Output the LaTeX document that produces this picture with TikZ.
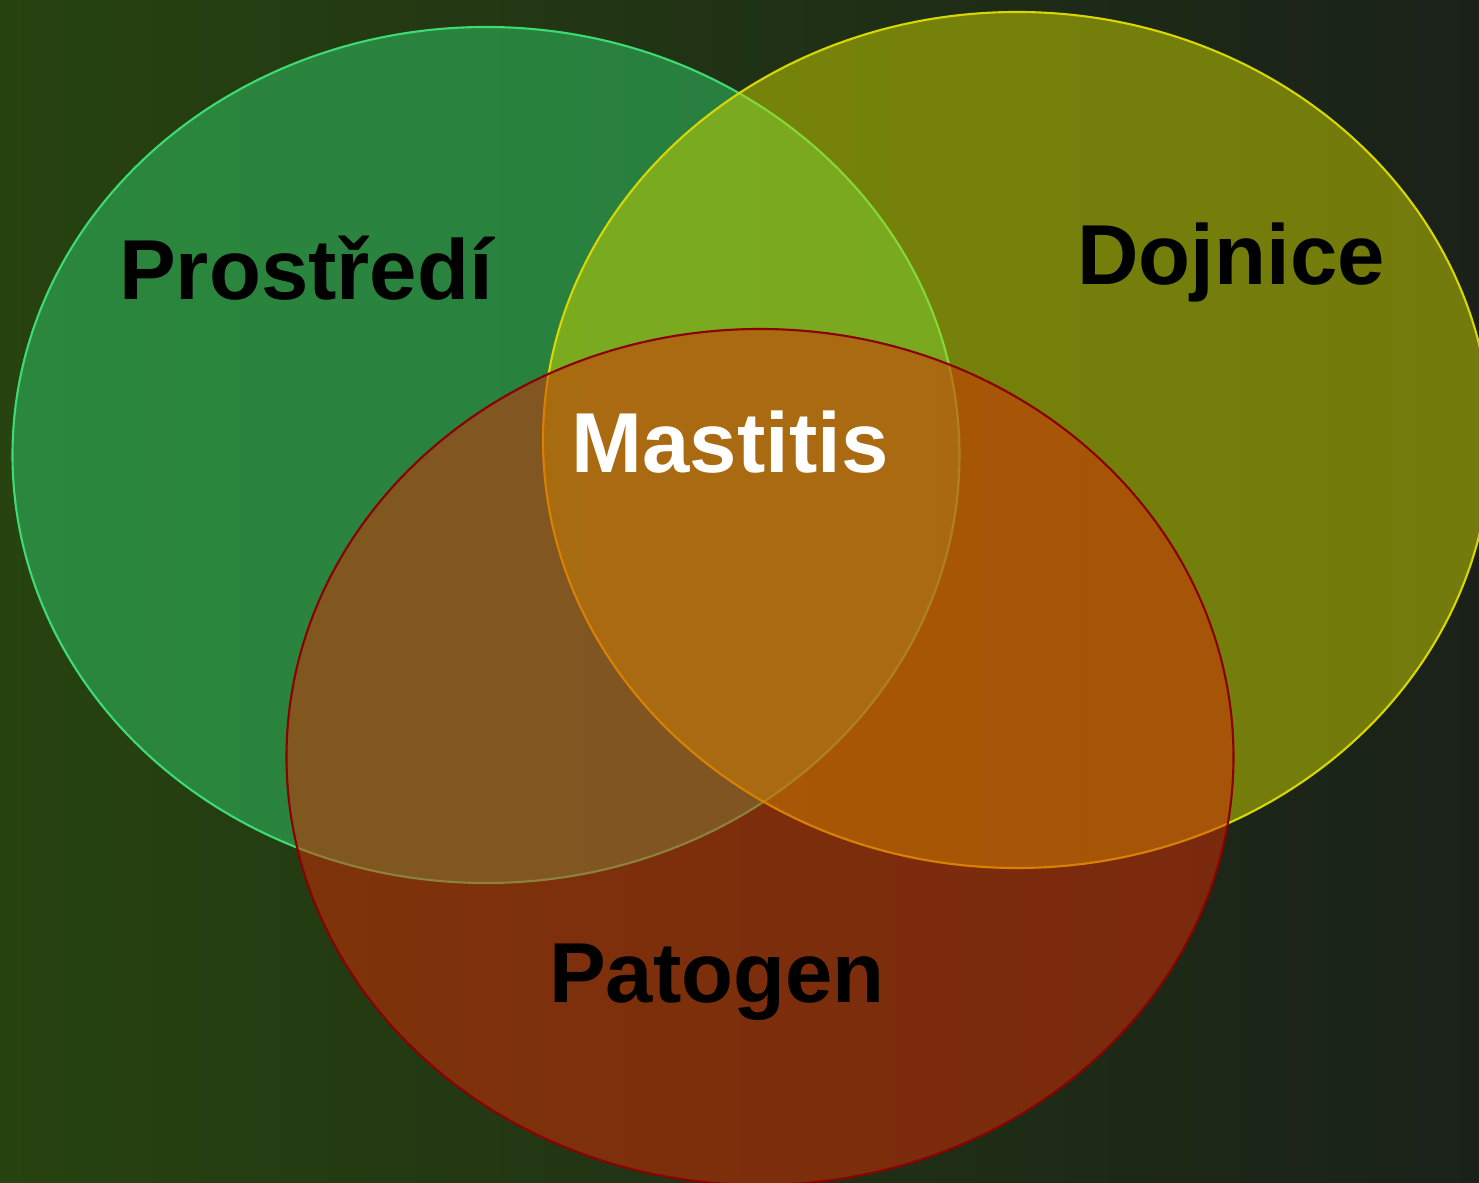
\documentclass[tikz,border=0pt]{standalone}
\usepackage{fontspec}
\setmainfont{Liberation Sans}
\definecolor{bgleft}{HTML}{274310}
\definecolor{bgright}{HTML}{1A2119}
\definecolor{greenfill}{HTML}{30CC6A}
\definecolor{greenline}{HTML}{3DDC72}
\definecolor{olivefill}{HTML}{CCD500}
\definecolor{oliveline}{HTML}{D8D800}
\definecolor{redfill}{HTML}{D92C04}
\definecolor{redline}{HTML}{8B0000}
\tikzset{
  circ/.style={line width=0.6pt,fill opacity=0.5},
  lbl/.style={anchor=base,inner sep=0pt,font=\fontsize{24.2}{29}\selectfont\bfseries}
}
\begin{document}
\begin{tikzpicture}[x=0.01cm,y=-0.01cm]
  \useasboundingbox (0,0) rectangle (1479,1183);
  \clip (0,0) rectangle (1479,1183);
  \shade[left color=bgleft,right color=bgright] (0,0) rectangle (1479,1183);
  % the three sets
  \draw[circ,draw=greenline,fill=greenfill] (486,455) ellipse [x radius=473.5,y radius=428];
  \draw[circ,draw=oliveline,fill=olivefill] (1017,440) ellipse [x radius=474,y radius=428];
  \draw[circ,draw=redline,fill=redfill] (760,757) ellipse [x radius=473.5,y radius=428];
  \draw
    (306,300) node[lbl] (prostredi){Prostředí}
    (1231,285) node[lbl] (dojnice){Dojnice}
    (730,473) node[lbl,text=white] (mastitis){Mastitis}
    (717,1002) node[lbl] (patogen){Patogen};
\end{tikzpicture}
\end{document}
